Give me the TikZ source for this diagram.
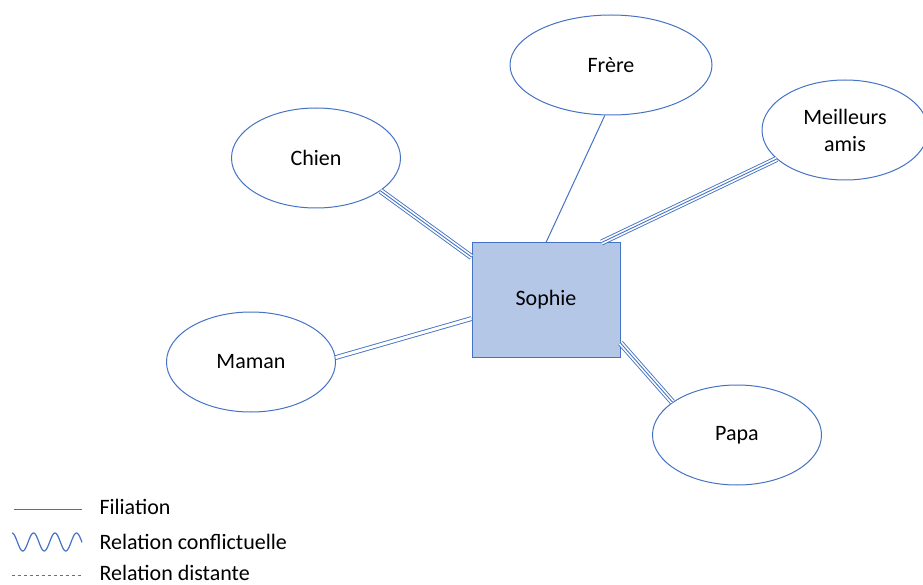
\documentclass[tikz,border=0pt]{standalone}
\usepackage{fontspec}
\setmainfont{Carlito}
\usepackage{tikz}
\usetikzlibrary{
positioning,
shapes.geometric,
}
\definecolor{linkblue}{HTML}{4472C4}
\definecolor{boxblue}{HTML}{B4C7E7}
\tikzset{
x=1pt, y=-1pt,
every node/.style={align=center, font=\fontsize{22}{27}\selectfont},
person/.style={ellipse, draw=linkblue, line width=1pt, inner sep=0pt,
  minimum width=169, minimum height=100},
focus/.style={rectangle, draw=linkblue, fill=boxblue, line width=1pt,
  minimum width=148, minimum height=114},
filiation/.style={draw=linkblue, line width=1pt},
closeline/.style={draw=linkblue, line width=0.9pt, double=white, double distance=3pt},
fusion/.style={draw=linkblue, line width=0.9pt, double=white, double distance=4.2pt,
  postaction={draw=linkblue, line width=0.9pt}},
conflict/.style={draw=linkblue, line width=1.2pt},
distant/.style={draw=linkblue, line width=1pt, dash pattern=on 3pt off 3pt},
legend/.style={anchor=base west},
}

\begin{document}
\begin{tikzpicture}
    \useasboundingbox (0,0) rectangle (923,585);
    \node [focus] (sophie) at (546,300) {Sophie};
    \node [person, minimum width=202] (frere) at (611,65) {Frère};
    \node [person] (chien) at (316,158) {Chien};
    \node [person, minimum width=166] (amis) at (845,130) {Meilleurs\\amis};
    \node [person] (maman) at (251,362) {Maman};
    \node [person] (papa) at (737,435) {Papa};
    % liens
    \draw [filiation] (sophie.north) -- (frere.263);
    \draw [fusion] (sophie.150) -- (chien.333);
    \draw [fusion] (sophie.46) -- (amis.203);
    \draw [fusion] (sophie.330) -- (papa.153);
    \draw [closeline] (sophie.194) -- (maman.3);
    % legende
    \node [legend] (leg1) at (96,514) {Filiation};
    \node [legend] (leg2) at (96,549) {Relation conflictuelle};
    \node [legend] (leg3) at (96,580) {Relation distante};
    \coordinate (l1a) at (14,509.5); \coordinate (l1b) at (82,509.5);
    \coordinate (l3a) at (12,575.5); \coordinate (l3b) at (82,575.5);
    \draw [filiation] (l1a) -- (l1b);
    \draw [conflict] plot [domain=0:70, samples=90, smooth]
        ({12+\x}, {542-9*cos(16.744*\x)});
    \draw [distant] (l3a) -- (l3b);
\end{tikzpicture}
\end{document}
